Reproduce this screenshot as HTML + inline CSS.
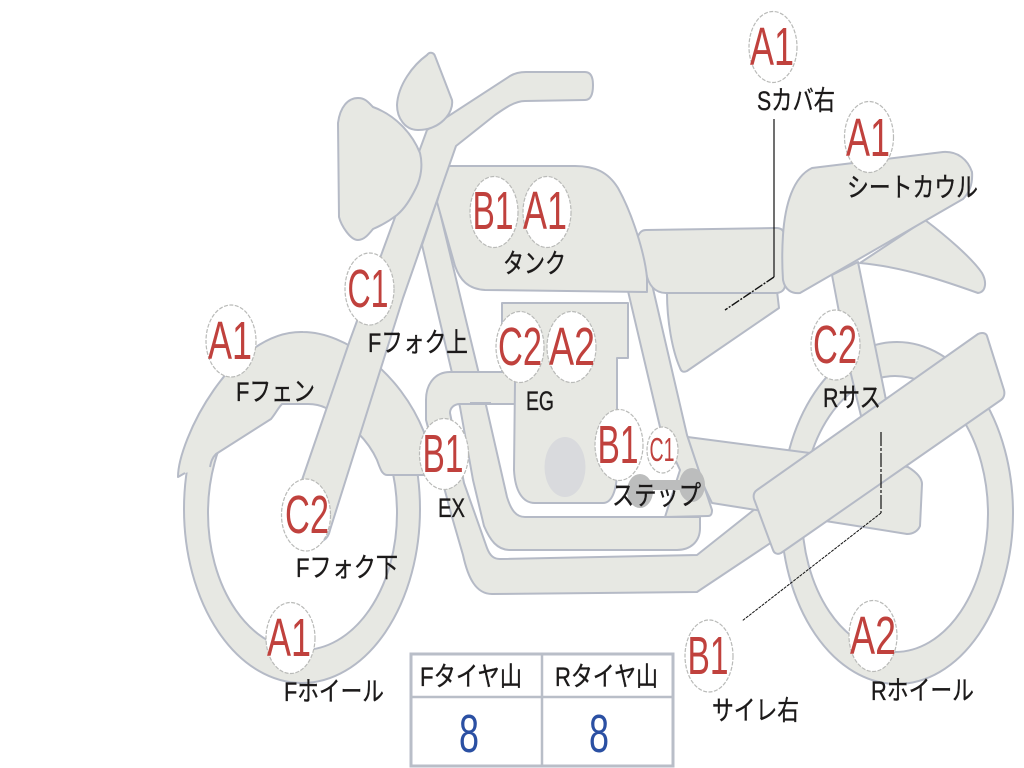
<!DOCTYPE html>
<html><head><meta charset="utf-8"><style>
html,body{margin:0;padding:0;background:#fff;width:1024px;height:768px;overflow:hidden}
svg{display:block}
.s{fill:#e7e8e3;stroke:#b5bac6;stroke-width:2;stroke-linejoin:round}
.f{fill:#e7e8e3;stroke:none}
.l{fill:none;stroke:#b5bac6;stroke-width:2;stroke-linejoin:round}
.c{fill:#fff;stroke:#b9bab8;stroke-width:1.2;stroke-dasharray:4 1.5}
.r{font-family:"Liberation Sans",sans-serif;fill:#c0413d;font-size:54px;text-anchor:middle}
.k{font-family:"Liberation Sans","Noto Sans CJK JP",sans-serif;fill:#1c1a1a;font-size:27px;stroke:#1c1a1a;stroke-width:.35}
.b{font-family:"Liberation Sans",sans-serif;fill:#2b50a3;font-size:54px;text-anchor:middle}
</style></head><body>
<svg width="1024" height="768" viewBox="0 0 1024 768" xmlns="http://www.w3.org/2000/svg">
<!-- front wheel: full ring, the fender fill covers the top -->
<path class="s" fill-rule="evenodd" d="M184 509a118 174 0 1 0 236 0a118 174 0 1 0 -236 0zM208 513a94.500 137 0 1 1 189 0a94.500 137 0 1 1 -189 0z"/>
<!-- fender -->
<path class="f" d="M185 473L178 477C178 440 232 330 303 332C345 332 400 372 424 432L424 475L387 475C382 475 380 468 377 460C372 449 366 441 358 433L326 408C320 405 315 404 308 404L282 404C278 408 276 413 271 419L216 454C212 458 211 462 210 467Z"/>
<path class="l" d="M185 473L178 477C178 440 232 330 303 332C345 332 400 372 424 432L424 475L387 475C382 475 380 468 377 460C372 449 366 441 358 433L326 408C320 405 315 404 308 404L282 404C278 408 276 413 271 419L216 454C212 458 211 462 210 467"/>
<!-- frame loop -->
<path class="s" d="M422 245L437 200L478 370L507 497C511 510 516 517 525 517L663 517L700 517L700 528C700 542 690 550 677 550L510 550C497 550 490 540 484 526L473 480L460 407Z"/>
<!-- exhaust -->
<path class="s" d="M520 372L450 372C435 372 426 384 426 400L426 420L452 517L463 555C468 578 476 594 492 594L697 592L790 530L760 505L697 555L500 559C494 559 490 556 487 548L464 483L450 413C450 408 454 404 460 404L520 404Z"/>
<path d="M470 403H491" stroke="#b5bac6" stroke-width="2"/>
<!-- engine -->
<path class="s" d="M515 382L514 470C515 490 522 503 535 503L603 503C612 503 617 490 617 470L617 358L628 358L628 303L502 303L502 372L515 372Z"/>
<ellipse cx="565" cy="467" rx="20.500" ry="30" fill="#d9dadd"/>
<!-- rear wheel -->
<path class="s" fill-rule="evenodd" d="M781 513a116 171 0 1 0 232 0a116 171 0 1 0 -232 0zM802 514a93 138 0 1 1 186 0a93 138 0 1 1 -186 0z"/>
<!-- rear sus -->
<path class="s" d="M832 275L858 262L886 400L862 420L850 370Z"/>
<!-- swingarm -->
<path class="s" d="M680 436L810 453L908 467C916 472 922 478 922 484L920 526C918 531 913 534 907 534L712 503Z"/>
<!-- rear frame tube + plate -->
<path class="s" d="M628 291L651 280L687 435L712 510C712 514 711 516 708 516L665 517L680 470L660 427Z"/>
<!-- step -->
<ellipse cx="640" cy="491" rx="13" ry="17" fill="#bcbdbd"/>
<ellipse cx="692" cy="485" rx="13" ry="17" fill="#bcbdbd"/>
<rect x="640" y="480" width="52" height="10" fill="#bcbdbd"/>
<!-- muffler -->
<path class="s" d="M978 334C982 332 986 333 987 336L1004 390C1005 394 1004 398 1001 400L781 553C777 555 774 553 773 550L754 499C753 495 754 492 757 490Z"/>
<!-- side cover -->
<path class="s" d="M667 293L777 291L779 308L687 371C683 373 681 371 680 368C672 350 667 320 667 293Z"/>
<!-- seat -->
<path class="s" d="M646 230L776 228C781 228 784 230 784 235L785 285C785 290 781 293 776 293L666 293C655 293 648 285 646 272C643 255 636 240 638 236C640 232 642 230 646 230Z"/>
<!-- tail -->
<path class="s" d="M925 220C945 235 972 258 982 273C987 282 986 292 978 293C950 283 905 267 860 263Z"/>
<!-- seat cowl -->
<path class="s" d="M783 235C785 205 793 177 812 168L943 152C958 151 968 160 972 172C973 185 969 193 963 199L800 293C792 294 785 290 783 280C782 265 782 250 783 235Z"/>
<!-- tank -->
<path class="s" d="M447 166L575 166C595 166 608 172 618 188C633 215 645 255 647 278L647 292L485 290C468 289 460 280 455 266L437 202Z"/>
<!-- fork + handlebar -->
<path class="s" d="M427 130L510 76C515 73 520 72 526 72L585 72C590 72 593 76 593 85C593 96 590 100 585 100L525 101C515 101 505 108 495 115L456 146L403 298L330 530C328 540 320 545 310 540C303 535 301 525 302 480L350 340L427 130Z"/>
<!-- headlight -->
<path class="s" d="M338 123C340 107 348 98 358 98C365 98 368 102 373 107C395 115 412 133 420 153C423 165 421 178 416 188C410 200 405 208 397 215C388 222 380 226 373 229C368 235 364 240 358 240C350 240 341 225 339 217Z"/>
<!-- mirror -->
<path class="s" d="M427 55C430 51 434 53 435 56L452 100C454 113 440 130 418 130C405 130 397 118 397 105C398 85 413 65 427 55Z"/>
<!-- callout lines -->
<path d="M774 119V277" stroke="#111" stroke-width="1.2" fill="none"/>
<path d="M774 277L725 310" stroke="#111" stroke-width="1.4" fill="none" stroke-dasharray="9 1.500 2 1.500"/>
<path d="M881 432V513" stroke="#111" stroke-width="1.2" fill="none" stroke-dasharray="14 2 3 2"/>
<path d="M881 513L742 621" stroke="#111" stroke-width="1" fill="none" stroke-dasharray="3 1"/>
<!-- table -->
<rect x="411" y="654" width="262" height="112" fill="#fff" stroke="#b9bec8" stroke-width="3"/>
<path d="M411 697H673M542 654V766" stroke="#b9bec8" stroke-width="2.500" fill="none"/>
<text class="b" x="469" y="752" textLength="20" lengthAdjust="spacingAndGlyphs">8</text>
<text class="b" x="599" y="752" textLength="20" lengthAdjust="spacingAndGlyphs">8</text>
<!-- circles -->
<ellipse class="c" cx="773" cy="47" rx="24" ry="35.500"/>
<ellipse class="c" cx="869" cy="137" rx="24.500" ry="35.500"/>
<ellipse class="c" cx="494" cy="212" rx="24" ry="35.500"/>
<ellipse class="c" cx="547" cy="212" rx="24" ry="35.500"/>
<ellipse class="c" cx="369.500" cy="289" rx="24.500" ry="36"/>
<ellipse class="c" cx="231" cy="341" rx="25" ry="36"/>
<ellipse class="c" cx="520" cy="347" rx="24" ry="35.500"/>
<ellipse class="c" cx="571.500" cy="347" rx="24.500" ry="35.500"/>
<ellipse class="c" cx="835.500" cy="345" rx="24.500" ry="35"/>
<ellipse class="c" cx="444" cy="454" rx="24.500" ry="35.500"/>
<ellipse class="c" cx="619" cy="445" rx="24" ry="35.500"/>
<ellipse class="c" cx="662.500" cy="450" rx="15.500" ry="23"/>
<ellipse class="c" cx="306" cy="515" rx="24.500" ry="36"/>
<ellipse class="c" cx="290.500" cy="638" rx="24.500" ry="35.500"/>
<ellipse class="c" cx="873" cy="636" rx="24" ry="35.500"/>
<ellipse class="c" cx="709" cy="656" rx="24" ry="36"/>
<!-- grade text -->
<text class="r" x="772" y="65" textLength="44" lengthAdjust="spacingAndGlyphs">A1</text>
<text class="r" x="868" y="156" textLength="44" lengthAdjust="spacingAndGlyphs">A1</text>
<text class="r" x="493" y="229" textLength="41" lengthAdjust="spacingAndGlyphs">B1</text>
<text class="r" x="545" y="229" textLength="44" lengthAdjust="spacingAndGlyphs">A1</text>
<text class="r" x="368" y="307" textLength="41" lengthAdjust="spacingAndGlyphs">C1</text>
<text class="r" x="230" y="359" textLength="44" lengthAdjust="spacingAndGlyphs">A1</text>
<text class="r" x="520" y="365" textLength="44" lengthAdjust="spacingAndGlyphs">C2</text>
<text class="r" x="572" y="365" textLength="46" lengthAdjust="spacingAndGlyphs">A2</text>
<text class="r" x="835" y="363" textLength="44" lengthAdjust="spacingAndGlyphs">C2</text>
<text class="r" x="443" y="472" textLength="41" lengthAdjust="spacingAndGlyphs">B1</text>
<text class="r" x="618" y="463" textLength="41" lengthAdjust="spacingAndGlyphs">B1</text>
<text class="r" x="662" y="461" textLength="25" lengthAdjust="spacingAndGlyphs" style="font-size:33px">C1</text>
<text class="r" x="307" y="533" textLength="44" lengthAdjust="spacingAndGlyphs">C2</text>
<text class="r" x="289" y="656" textLength="44" lengthAdjust="spacingAndGlyphs">A1</text>
<text class="r" x="873" y="654" textLength="46" lengthAdjust="spacingAndGlyphs">A2</text>
<text class="r" x="708" y="674" textLength="41" lengthAdjust="spacingAndGlyphs">B1</text>
<!-- labels -->
<text class="k" x="757" y="110" textLength="78" lengthAdjust="spacingAndGlyphs">Sカバ右</text>
<text class="k" x="847" y="197" textLength="131" lengthAdjust="spacingAndGlyphs">シートカウル</text>
<text class="k" x="503" y="273" textLength="63" lengthAdjust="spacingAndGlyphs">タンク</text>
<text class="k" x="368" y="352" textLength="100" lengthAdjust="spacingAndGlyphs">Fフォク上</text>
<text class="k" x="236" y="401" textLength="79" lengthAdjust="spacingAndGlyphs">Fフェン</text>
<text class="k" x="526" y="410" textLength="28" lengthAdjust="spacingAndGlyphs">EG</text>
<text class="k" x="438" y="517" textLength="27" lengthAdjust="spacingAndGlyphs">EX</text>
<text class="k" x="612" y="505" textLength="89" lengthAdjust="spacingAndGlyphs">ステップ</text>
<text class="k" x="296" y="577" textLength="102" lengthAdjust="spacingAndGlyphs">Fフォク下</text>
<text class="k" x="284" y="701" textLength="100" lengthAdjust="spacingAndGlyphs">Fホイール</text>
<text class="k" x="420" y="686" textLength="102" lengthAdjust="spacingAndGlyphs">Fタイヤ山</text>
<text class="k" x="555" y="686" textLength="103" lengthAdjust="spacingAndGlyphs">Rタイヤ山</text>
<text class="k" x="712" y="720" textLength="87" lengthAdjust="spacingAndGlyphs">サイレ右</text>
<text class="k" x="871" y="700" textLength="103" lengthAdjust="spacingAndGlyphs">Rホイール</text>
<text class="k" x="823" y="407" textLength="58" lengthAdjust="spacingAndGlyphs">Rサス</text>
</svg>
</body></html>
